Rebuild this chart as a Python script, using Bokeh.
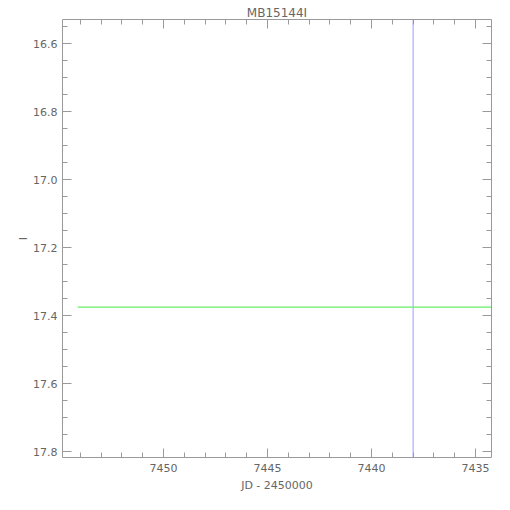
from bokeh.plotting import figure
from bokeh.models import Range1d, LinearAxis, SingleIntervalTicker, NumeralTickFormatter
from bokeh.embed import file_html
from bokeh.resources import INLINE

# data
title_text = "MB15144I"
x_label = "JD - 2450000"
y_label = "I"
event_x = [7438.0, 7438.0]
event_y = [16.52, 17.82]
base_x = [7454.13, 7434.0]
base_y = [17.375, 17.375]
x_lim = (7454.86, 7434.23)
y_lim = (17.8175, 16.528)

FONT = "DejaVu Sans"
GRAY = "#9a9a9a"
TXT = "#666666"

p = figure(width=494, height=494, output_backend="svg", toolbar_location=None,
           x_range=Range1d(*x_lim), y_range=Range1d(*y_lim),
           min_border_left=62, min_border_right=3, min_border_top=19, min_border_bottom=34,
           title=title_text)
p.title.text_font = FONT
p.title.text_font_size = "12px"
p.title.text_font_style = "normal"
p.title.text_color = TXT
p.title.align = "center"
p.title.standoff = 0
p.title.offset = 0
p.grid.visible = False
p.outline_line_color = None
p.xaxis.visible = False
p.yaxis.visible = False

def style(ax, labels=True):
    ax.axis_line_color = GRAY
    ax.major_tick_line_color = GRAY
    ax.minor_tick_line_color = GRAY
    ax.major_tick_in = 9
    ax.major_tick_out = 0
    ax.minor_tick_in = 5
    ax.minor_tick_out = 0
    ax.major_label_text_font = FONT
    ax.major_label_text_font_size = "11px"
    ax.major_label_text_color = TXT if labels else None
    ax.axis_label_text_font = FONT
    ax.axis_label_text_font_size = "11px"
    ax.axis_label_text_font_style = "normal"
    ax.axis_label_text_color = TXT

xt = SingleIntervalTicker(interval=5, num_minor_ticks=5)
yt = SingleIntervalTicker(interval=0.2, num_minor_ticks=4)

xb = LinearAxis(ticker=xt, axis_label=x_label)
style(xb)
xb.major_label_standoff = 6
xb.axis_label_standoff = 4
p.add_layout(xb, "below")

xa = LinearAxis(ticker=xt)
style(xa, labels=False)
xa.major_label_text_font_size = "0px"
xa.major_label_standoff = 0
p.add_layout(xa, "above")

yl = LinearAxis(ticker=yt, axis_label=y_label, formatter=NumeralTickFormatter(format="0.0"))
style(yl)
yl.major_label_standoff = 5
yl.axis_label_standoff = 0
p.add_layout(yl, "left")

yr = LinearAxis(ticker=yt)
style(yr, labels=False)
yr.major_label_text_font_size = "0px"
yr.major_label_standoff = 0
p.add_layout(yr, "right")

p.line(event_x, event_y, line_color="#9999ff", line_width=1)
p.line(base_x, base_y, line_color="#66ee66", line_width=1.2)

open("out.html", "w").write(file_html(p, INLINE))
